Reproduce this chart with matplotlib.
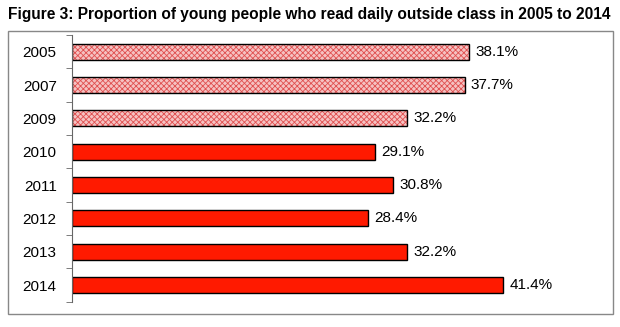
import numpy as np
import matplotlib
matplotlib.use("Agg")
import matplotlib.pyplot as plt
from matplotlib.patches import Rectangle

years = ["2005", "2007", "2009", "2010", "2011", "2012", "2013", "2014"]
pct = [38.1, 37.7, 32.2, 29.1, 30.8, 28.4, 32.2, 41.4]
hatched = [True, True, True, False, False, False, False, False]

plt.rcParams['font.family'] = ['Liberation Sans', 'DejaVu Sans']
plt.rcParams['hatch.linewidth'] = 0.6

fig = plt.figure(figsize=(6.2, 3.27), dpi=100)
ax = fig.add_axes([0.116, 0.077, 0.84, 0.816])

pos = np.arange(len(years))
h = 0.48
for i, (v, hat) in enumerate(zip(pct, hatched)):
    if hat:
        # pink dotted fill, then black outline on top
        ax.barh(pos[i], v, height=h, color='#f5c2c2', edgecolor='#e05050',
                hatch='xxxxxx', linewidth=0)
        ax.barh(pos[i], v, height=h, fill=False, edgecolor='black', linewidth=1)
    else:
        ax.barh(pos[i], v, height=h, color='#ff1a00', edgecolor='black', linewidth=1)
    ax.text(v + 0.6, pos[i], f"{v:.1f}%", va='center', ha='left', fontsize=11)

ax.set_xlim(0, 50)
ax.set_ylim(len(years) - 0.5, -0.5)
ax.set_yticks(pos)
ax.set_yticklabels(years, fontsize=11)
ax.tick_params(axis='y', which='major', length=0, pad=11)
ax.set_yticks(np.arange(len(years) + 1) - 0.5, minor=True)
ax.tick_params(axis='y', which='minor', length=4, color='#666666', direction='out')
ax.set_xticks([])
for s in ['top', 'right', 'bottom']:
    ax.spines[s].set_visible(False)
ax.spines['left'].set_color('#666666')

# outer frame around the plot area
fig.patches.append(Rectangle((8 / 620, 1 - 314 / 327), 605 / 620, 283 / 327,
                             transform=fig.transFigure, fill=False,
                             edgecolor='#888888', linewidth=1))

fig.text(8 / 620, 1 - 14 / 327, "Figure 3: Proportion of young people who read daily outside class in 2005 to 2014",
         fontsize=11.2, fontweight='bold', va='center', ha='left')

fig.savefig("out.png", dpi=100)
